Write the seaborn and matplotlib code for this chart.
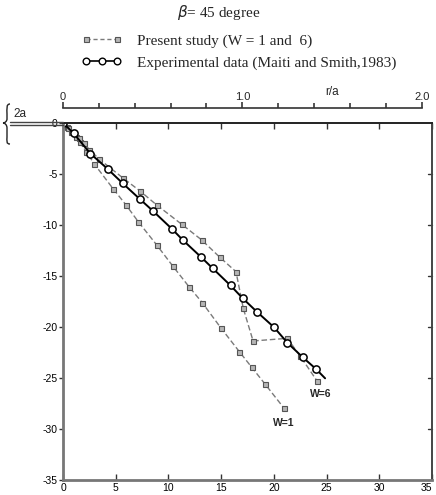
import matplotlib
matplotlib.use("Agg")
import matplotlib.pyplot as plt
from matplotlib.legend_handler import HandlerLine2D
from matplotlib.lines import Line2D
from matplotlib.path import Path
from matplotlib.patches import PathPatch
from matplotlib.transforms import ScaledTranslation
import seaborn as sns
import numpy as np

sns.set_style("white")
plt.rcParams['font.family'] = ['Liberation Sans', 'DejaVu Sans']

# ---- data ----
w1_x = [0, 0.4, 0.8, 1.2, 1.6, 2.2, 2.97, 4.77, 5.98, 7.14, 8.89, 10.41, 11.95, 13.2, 14.96, 16.73, 17.9, 19.17, 20.97]
w1_y = [0, -0.4, -0.9, -1.4, -1.9, -2.8, -4.02, -6.47, -8.04, -9.68, -11.96, -14.02, -16.05, -17.6, -20.07, -22.42, -23.95, -25.6, -27.97]

w6_x = [0, 0.5, 1.0, 1.5, 2.0, 2.5, 3.42, 5.72, 7.31, 8.89, 11.26, 13.16, 14.85, 16.41, 17.1, 18.03, 21.28, 22.49, 24.07]
w6_y = [0, -0.5, -1.0, -1.5, -2.0, -2.6, -3.53, -5.42, -6.67, -8.04, -9.93, -11.47, -13.14, -14.58, -18.17, -21.37, -21.11, -22.84, -25.25]

exp_x = [0, 1.0, 2.6, 4.24, 5.66, 7.31, 8.51, 10.37, 11.36, 13.06, 14.2, 15.89, 17.05, 18.38, 20.02, 21.28, 22.74, 24.0, 24.86]
exp_y = [0, -1.0, -3.0, -4.51, -5.91, -7.48, -8.6, -10.42, -11.47, -13.11, -14.25, -15.93, -17.19, -18.5, -20.03, -21.54, -22.97, -24.12, -25.03]

x_ticks = [0, 5, 10, 15, 20, 25, 30, 35]
y_ticks = [0, -5, -10, -15, -20, -25, -30, -35]
top_major = [0, 1.0, 2.0]
top_major_labels = ["0", "1.0", "2.0"]
top_minor = [0.2, 0.4, 0.6, 0.8, 1.2, 1.4, 1.6, 1.8]

title_text = r"$\beta$= 45 degree"
legend_labels = ["Present study (W = 1 and  6)", "Experimental data (Maiti and Smith,1983)"]

W, H = 436, 495
fig = plt.figure(figsize=(W / 100, H / 100), dpi=100)
ax = fig.add_axes([63 / W, 1 - 480 / H, (432 - 63) / W, (480 - 123) / H])

gray = "#7a7a7a"
sq_kw = dict(marker="s", markersize=3.6, markerfacecolor="#b5b5b5", markeredgecolor="#555555", markeredgewidth=0.8)

sns.lineplot(x=w1_x, y=w1_y, ax=ax, sort=False, color=gray, linewidth=1.0, linestyle=(0, (4, 2)), **sq_kw)
sns.lineplot(x=w6_x, y=w6_y, ax=ax, sort=False, color=gray, linewidth=1.0, linestyle=(0, (4, 2)), **sq_kw)
sns.lineplot(x=exp_x, y=exp_y, ax=ax, sort=False, color="black", linewidth=1.4,
             marker="o", markersize=5.2, markerfacecolor="white", markeredgecolor="black",
             markeredgewidth=1.1, markevery=list(range(len(exp_x) - 1)))

ax.text(w1_x[-1], w1_y[-1] - 1.0, "W=1", fontsize=7.5, fontweight="bold", ha="center", va="top")
ax.text(w6_x[-1] + 0.4, w6_y[-1] - 0.8, "W=6", fontsize=7.5, fontweight="bold", ha="center", va="top")

ax.set_xlim(0, 35)
ax.set_ylim(-35, 0)
ax.set_xticks(x_ticks)
ax.set_yticks(y_ticks)
ax.set_xticklabels([str(v) for v in x_ticks], fontsize=7.5)
ax.set_yticklabels([str(v) for v in y_ticks], fontsize=7.5)
ax.tick_params(axis="x", which="both", direction="in", length=4, width=1, colors="#333333",
               top=True, bottom=True, pad=2, labelcolor="black")
ax.tick_params(axis="y", which="both", direction="out", length=3, width=1, colors="#333333",
               left=True, right=False, pad=1, labelcolor="black")
for v in y_ticks[1:-1]:
    ax.plot([35, 34.6], [v, v], color="#333333", lw=1, clip_on=False)
last = ax.get_xticklabels()[-1]
last.set_transform(last.get_transform() + ScaledTranslation(-4 / 72, 0, fig.dpi_scale_trans))

for s in ["left", "bottom"]:
    ax.spines[s].set_color("#777777")
    ax.spines[s].set_linewidth(2.0)
ax.spines["top"].set_color("#222222")
ax.spines["top"].set_linewidth(1.4)
ax.spines["right"].set_color("#444444")
ax.spines["right"].set_linewidth(1.4)

# top r/a scale
ax2 = fig.add_axes([63 / W, 1 - 108 / H, (421.7 - 63) / W, 0.0001])
ax2.set_xlim(0, 2.0)
ax2.set_yticks([])
for s in ["left", "right", "bottom"]:
    ax2.spines[s].set_visible(False)
ax2.spines["top"].set_color("#333333")
ax2.spines["top"].set_linewidth(1.2)
ax2.xaxis.set_ticks_position("top")
ax2.set_xticks(top_major)
ax2.set_xticklabels(top_major_labels, fontsize=8)
ax2.set_xticks(top_minor, minor=True)
ax2.tick_params(axis="x", which="major", direction="out", length=4.5, width=1.1, pad=0)
ax2.tick_params(axis="x", which="minor", direction="out", length=3.5, width=1.1)
ax2.patch.set_visible(False)
fig.text(332 / W, 1 - 92 / H, "r/a", fontsize=8.5, ha="center", va="center")

# plate and 2a marker
fig.add_artist(Line2D([10 / W, 63 / W], [1 - 122 / H, 1 - 122 / H], color="#444444", lw=1.0))
fig.add_artist(Line2D([10 / W, 63 / W], [1 - 124.5 / H, 1 - 124.5 / H], color="#444444", lw=1.0))

def px(x, y):
    return (x / W, 1 - y / H)

brace_pts = [px(10, 104), px(6, 104), px(7, 109), px(7, 114),
             px(7, 119),
             px(7, 121), px(5, 123), px(3, 123),
             px(5, 123), px(7, 125), px(7, 128),
             px(7, 137),
             px(7, 141), px(6, 144), px(10, 144)]
brace_codes = [Path.MOVETO, Path.CURVE4, Path.CURVE4, Path.CURVE4,
               Path.LINETO,
               Path.CURVE4, Path.CURVE4, Path.CURVE4,
               Path.CURVE4, Path.CURVE4, Path.CURVE4,
               Path.LINETO,
               Path.CURVE4, Path.CURVE4, Path.CURVE4]
fig.add_artist(PathPatch(Path(brace_pts, brace_codes), transform=fig.transFigure,
                         facecolor="none", edgecolor="#222222", lw=1.0))
fig.text(13 / W, 1 - 114 / H, "2a", fontsize=8.5, ha="left", va="center")

# title and legend
fig.text(219 / W, 1 - 12 / H, title_text, fontsize=11, ha="center", va="center", family="Liberation Serif")
h1 = Line2D([], [], color=gray, linewidth=1.0, linestyle=(0, (3, 2)), **sq_kw)
h2 = Line2D([], [], color="black", linewidth=1.2, marker="o", markersize=4.8,
            markerfacecolor="white", markeredgecolor="black", markeredgewidth=1.0)
leg = fig.legend([h1, h2], legend_labels, loc="upper left",
                 bbox_to_anchor=(74 / W, 1 - 26 / H), frameon=False,
                 prop={"family": "Liberation Serif", "size": 11},
                 handlelength=2.6, handletextpad=1.0, labelspacing=0.55, borderpad=0,
                 handler_map={h1: HandlerLine2D(numpoints=2), h2: HandlerLine2D(numpoints=3)})

fig.savefig("out.png", dpi=100)
